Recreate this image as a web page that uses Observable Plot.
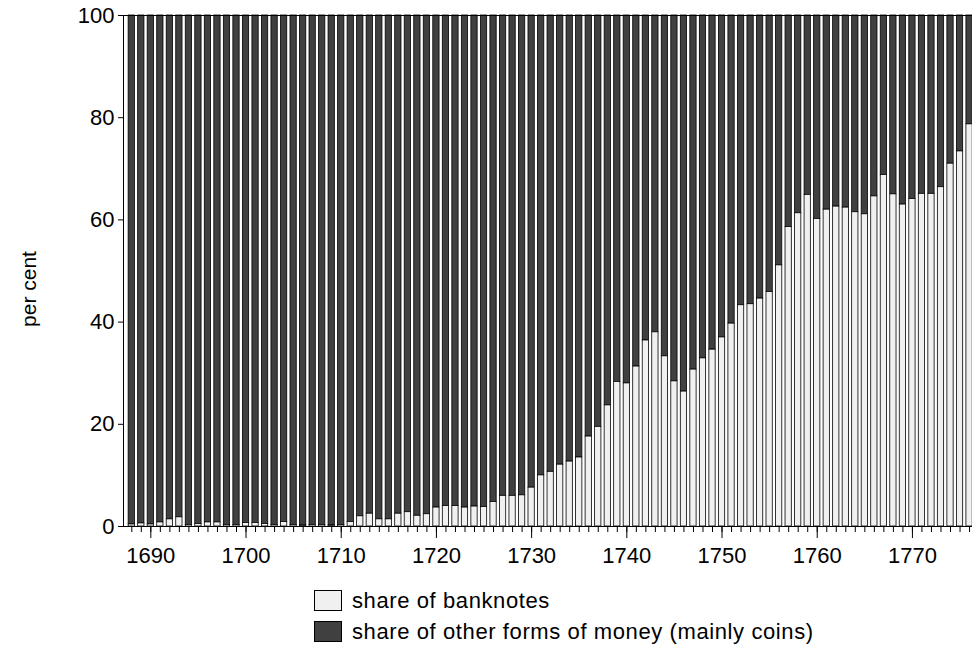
<!DOCTYPE html>
<html>
<head>
<meta charset="utf-8">
<script src="https://cdn.jsdelivr.net/npm/d3@7"></script>
<script src="https://cdn.jsdelivr.net/npm/@observablehq/plot@0.6"></script>
<style>
  html, body { margin: 0; padding: 0; background: #fff; overflow: hidden; }
  body { font-family: Arial, "Liberation Sans", sans-serif; color: #000; width: 972px; height: 648px; }
  #chart { width: 972px; height: 585px; overflow: hidden; }
  #chart svg { display: block; max-width: none !important; }
  .legend { padding-left: 314px; font-size: 22px; letter-spacing: 0.6px; }
  .row { display: flex; align-items: center; height: 31px; }
  .sw { width: 28px; height: 21px; border: 1px solid #000; box-sizing: border-box; margin-right: 10px; flex: none; }
</style>
</head>
<body>
<div id="chart"></div>
<div class="legend" id="legend"></div>
<script>
// Years (one bar per year)
const years = d3.range(1688, 1777);

// Share of banknotes in per cent
const banknotes = [
  0.4, 0.6, 0.4, 0.8, 1.4, 1.8, 0.3, 0.5, 0.8, 0.8,   // 1688-1697
  0.3, 0.3, 0.7, 0.7, 0.5, 0.3, 0.9, 0.3, 0.2, 0.3,   // 1698-1707
  0.3, 0.2, 0.3, 0.9, 2.0, 2.5, 1.4, 1.4, 2.5, 2.8,   // 1708-1717
  2.1, 2.4, 3.7, 4.0, 4.0, 3.7, 3.9, 3.8, 4.8, 6.0,   // 1718-1727
  6.0, 6.1, 7.6, 10.0, 10.7, 12.1, 12.7, 13.5, 17.6, 19.5, // 1728-1737
  23.7, 28.3, 28.0, 31.3, 36.4, 38.0, 33.3, 28.4, 26.4, 30.7, // 1738-1747
  32.9, 34.6, 37.0, 39.7, 43.3, 43.5, 44.6, 45.9, 51.1, 58.6, // 1748-1757
  61.3, 64.9, 60.2, 62.0, 62.6, 62.4, 61.5, 61.1, 64.6, 68.8, // 1758-1767
  65.0, 63.0, 64.1, 65.1, 65.1, 66.4, 71.0, 73.4, 78.7        // 1768-1776
];

const seriesNames = ["share of banknotes", "share of other forms of money (mainly coins)"];
const seriesColors = ["#f0f0f0", "#404040"];
const yTicks = [0, 20, 40, 60, 80, 100];
const decadeTicks = [1690, 1700, 1710, 1720, 1730, 1740, 1750, 1760, 1770];
const yLabel = "per cent";

const rows = years.map((year, i) => ({year, banknotes: banknotes[i], total: 100}));
const half = 0.33;

const chart = Plot.plot({
  width: 980,
  height: 585,
  marginLeft: 123,
  marginRight: 0,
  marginTop: 15,
  marginBottom: 59,
  style: {fontFamily: "Arial, 'Liberation Sans', sans-serif", fontSize: "22px", color: "#000", background: "#fff", overflow: "visible"},
  x: {type: "linear", domain: [1687.13, 1777.15]},
  y: {domain: [0, 100]},
  color: {domain: seriesNames, range: seriesColors},
  marks: [
    // other forms of money: from banknote share up to 100
    Plot.rect(rows, {
      x1: d => d.year - half, x2: d => d.year + half,
      y1: "banknotes", y2: "total",
      fill: () => seriesNames[1], stroke: "#000", strokeWidth: 0.8
    }),
    // banknotes: from 0 up to share
    Plot.rect(rows, {
      x1: d => d.year - half, x2: d => d.year + half,
      y1: 0, y2: "banknotes",
      fill: () => seriesNames[0], stroke: "#000", strokeWidth: 0.8
    }),
    Plot.frame({stroke: "#000", strokeWidth: 1}),
    Plot.axisY({ticks: yTicks, tickSize: 5, tickPadding: 4, label: null}),
    Plot.axisX({ticks: years, tickSize: 6, tickFormat: () => "", label: null}),
    Plot.axisX({ticks: decadeTicks, tickSize: 12, tickPadding: 9, tickFormat: d => String(d), label: null})
  ]
});
chart.style.maxWidth = "none";
chart.style.width = "980px";
chart.style.height = "585px";

// rotated y-axis title
d3.select(chart).append("text")
  .attr("transform", "translate(30,289) rotate(-90)")
  .attr("text-anchor", "middle")
  .attr("dominant-baseline", "middle")
  .attr("font-size", 21)
  .attr("fill", "#000")
  .text(yLabel);

document.getElementById("chart").appendChild(chart);

const legend = document.getElementById("legend");
seriesNames.forEach((name, i) => {
  const row = document.createElement("div");
  row.className = "row";
  const sw = document.createElement("span");
  sw.className = "sw";
  sw.style.background = seriesColors[i];
  const t = document.createElement("span");
  t.textContent = name;
  row.appendChild(sw);
  row.appendChild(t);
  legend.appendChild(row);
});
</script>
</body>
</html>
